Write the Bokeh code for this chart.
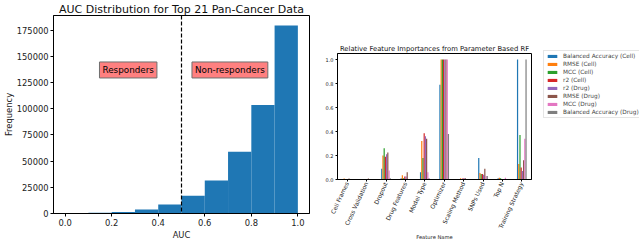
import math
from bokeh.plotting import figure
from bokeh.layouts import row, column
from bokeh.models import (Range1d, FixedTicker, PrintfTickFormatter, Span, Label,
                          Legend, LegendItem)
from bokeh.embed import file_html
from bokeh.resources import INLINE

FONT = "DejaVu Sans"

# ---------------- data ----------------
bin_edges = [0.0, 0.1, 0.2, 0.3, 0.4, 0.5, 0.6, 0.7, 0.8, 0.9, 1.0]
auc_counts = [150, 750, 1500, 3800, 8500, 17000, 31500, 59000, 103500, 179500]
auc_xticks = [0.0, 0.2, 0.4, 0.6, 0.8, 1.0]
freq_yticks = [0, 25000, 50000, 75000, 100000, 125000, 150000, 175000]
threshold = 0.5

features = ["Cell Frames", "Cross Validation", "Dropout", "Drug Features", "Model Type",
            "Optimizer", "Scaling Method", "SNPs Used", "Top N", "Training Strategy"]
series_names = ["Balanced Accuracy (Cell)", "RMSE (Cell)", "MCC (Cell)", "r2 (Cell)",
                "r2 (Drug)", "RMSE (Drug)", "MCC (Drug)", "Balanced Accuracy (Drug)"]
bal_acc_cell = [0.003, 0.002, 0.09, 0.010, 0.06, 0.79, 0.003, 0.18, 0.010, 1.00]
rmse_cell    = [0.008, 0.001, 0.20, 0.035, 0.32, 1.00, 0.010, 0.055, 0.015, 0.13]
mcc_cell     = [0.002, 0.001, 0.26, 0.010, 0.18, 1.00, 0.003, 0.045, 0.010, 0.37]
r2_cell      = [0.005, 0.003, 0.19, 0.025, 0.385, 1.00, 0.010, 0.045, 0.005, 0.10]
r2_drug      = [0.003, 0.002, 0.21, 0.025, 0.36, 1.00, 0.010, 0.040, 0.003, 0.07]
rmse_drug    = [0.008, 0.008, 0.225, 0.060, 0.34, 1.00, 0.010, 0.090, 0.003, 0.16]
mcc_drug     = [0.002, 0.001, 0.075, 0.002, 0.06, 1.00, 0.002, 0.030, 0.015, 0.34]
bal_acc_drug = [0.003, 0.001, 0.010, 0.002, 0.01, 0.38, 0.002, 0.030, 0.005, 1.00]
series_values = [bal_acc_cell, rmse_cell, mcc_cell, r2_cell, r2_drug, rmse_drug,
                 mcc_drug, bal_acc_drug]
imp_yticks = [0.0, 0.2, 0.4, 0.6, 0.8, 1.0]

colors = ["#1f77b4", "#ff7f0e", "#2ca02c", "#d62728", "#9467bd", "#8c564b",
          "#e377c2", "#7f7f7f"]

H = 242


def style_axes(p, tick_size):
    p.grid.visible = False
    p.outline_line_color = "black"
    p.outline_line_width = 1
    for ax in p.axis:
        ax.major_tick_in = 0
        ax.major_tick_out = 3
        ax.minor_tick_in = 0
        ax.minor_tick_out = 0
        ax.axis_line_color = "black"
        ax.major_tick_line_color = "black"
        ax.major_label_text_font = FONT
        ax.major_label_text_font_size = tick_size
        ax.major_label_text_color = "#222222"
        ax.major_label_standoff = 2
        ax.axis_label_text_font = FONT
        ax.axis_label_text_font_style = "normal"
        ax.axis_label_text_color = "#222222"


# ---------------- left: histogram ----------------
p1 = figure(width=320, height=H, output_backend="svg", toolbar_location=None,
            x_range=Range1d(-0.05, 1.05), y_range=Range1d(0, 189000),
            min_border_left=52, min_border_right=11, min_border_top=14,
            min_border_bottom=29,
            title="AUC Distribution for Top 21 Pan-Cancer Data")
p1.title.text_font = FONT
p1.title.text_font_size = "11px"
p1.title.text_font_style = "normal"
p1.title.align = "center"
p1.title.standoff = 0
p1.title.text_color = "#111111"

p1.quad(left=bin_edges[:-1], right=bin_edges[1:], bottom=0, top=auc_counts,
        fill_color="#1f77b4", line_color=None)
p1.add_layout(Span(location=threshold, dimension="height", line_color="black",
                   line_dash="4 2", line_width=1.2))
for txt, xc in [("Responders", 0.271), ("Non-responders", 0.708)]:
    p1.add_layout(Label(x=xc, y=137000, text=txt, text_font=FONT,
                        text_font_size="8.8px", text_align="center",
                        text_baseline="middle", text_color="black",
                        background_fill_color="#ff8080", border_line_color="#6f6f6f",
                        border_line_width=1, padding=3))

style_axes(p1, "8.3px")
p1.xaxis.major_label_text_font_size = "8.4px"
p1.xaxis.ticker = FixedTicker(ticks=auc_xticks)
p1.xaxis.formatter = PrintfTickFormatter(format="%.1f")
p1.yaxis.ticker = FixedTicker(ticks=freq_yticks)
p1.yaxis.formatter = PrintfTickFormatter(format="%d")
p1.yaxis.major_label_standoff = 2
p1.xaxis.axis_label = "AUC"
p1.yaxis.axis_label = "Frequency"
p1.xaxis.axis_label_text_font_size = "8.4px"
p1.yaxis.axis_label_text_font_size = "8.4px"
p1.xaxis.axis_label_standoff = 1
p1.yaxis.axis_label_standoff = 0

# ---------------- right: grouped bars ----------------
n_series = len(series_names)
bar_w = 0.5 / n_series
p2 = figure(width=220, height=H, output_backend="svg", toolbar_location=None,
            x_range=Range1d(-0.5, len(features) - 0.5), y_range=Range1d(0, 1.05),
            min_border_left=17, min_border_right=9, min_border_top=53,
            min_border_bottom=63,
            title="Relative Feature Importances from Parameter Based RF")
p2.title.text_font = FONT
p2.title.text_font_size = "6.8px"
p2.title.text_font_style = "normal"
p2.title.align = "center"
p2.title.standoff = 2
p2.title.text_color = "#111111"

for j, (name, vals, col) in enumerate(zip(series_names, series_values, colors)):
    xs = [i - 0.25 + (j + 0.5) * bar_w for i in range(len(features))]
    p2.vbar(x=xs, top=vals, width=bar_w, bottom=0, fill_color=col, line_color=None)

style_axes(p2, "5px")
p2.xaxis.ticker = FixedTicker(ticks=list(range(len(features))))
p2.xaxis.major_label_overrides = {i: f for i, f in enumerate(features)}
p2.xaxis.major_label_orientation = math.radians(65)
p2.xaxis.major_label_text_font_size = "5.9px"
p2.xaxis.major_label_standoff = 1
p2.yaxis.ticker = FixedTicker(ticks=imp_yticks)
p2.yaxis.formatter = PrintfTickFormatter(format="%.1f")
p2.xaxis.axis_label = "Feature Name"
p2.xaxis.axis_label_text_font_size = "5.2px"
p2.xaxis.axis_label_standoff = 0
for ax in p2.axis:
    ax.major_tick_out = 2

# ---------------- legend panel (hidden proxies carry the series data) ----------------
p3 = figure(width=99, height=H, output_backend="svg", toolbar_location=None,
            x_axis_location=None, y_axis_location=None, min_border=0,
            min_border_top=47)
p3.outline_line_color = None
p3.grid.visible = False
items = []
for name, vals, col in zip(series_names, series_values, colors):
    r = p3.vbar(x=list(range(len(features))), top=vals, width=bar_w,
                fill_color=col, line_color=None, visible=False)
    items.append(LegendItem(label=name, renderers=[r]))
legend = Legend(items=items, location="top_left", margin=3, padding=2, spacing=2,
                label_text_font=FONT, label_text_font_size="5.8px",
                label_height=6, glyph_height=4, glyph_width=12, label_standoff=5,
                border_line_color="#cccccc", border_line_width=1,
                background_fill_color="white", background_fill_alpha=1,
                inactive_fill_alpha=0, click_policy="none")
p3.add_layout(legend)

layout = row(column(p1), column(p2), column(p3))
open("out.html", "w").write(file_html(layout, INLINE))
